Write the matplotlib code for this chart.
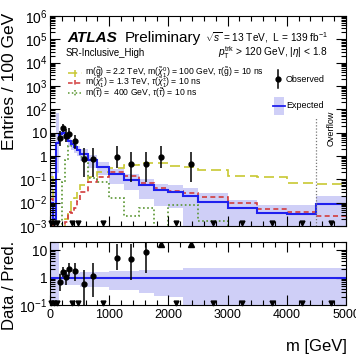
import numpy as np
import matplotlib
matplotlib.use('Agg')
import matplotlib.pyplot as plt
from matplotlib.lines import Line2D
from matplotlib.patches import Rectangle
import matplotlib.ticker as mt

plt.rcParams['font.family'] = ['Liberation Sans', 'DejaVu Sans']
plt.rcParams['mathtext.fontset'] = 'custom'
plt.rcParams['mathtext.rm'] = 'Liberation Sans'
plt.rcParams['mathtext.it'] = 'Liberation Sans:italic'
plt.rcParams['mathtext.bf'] = 'Liberation Sans:bold'

# ---------------- data ----------------
bin_edges = [0, 50, 100, 150, 200, 250, 300, 350, 400, 450, 500, 650, 800, 1000,
             1250, 1500, 1750, 2000, 2250, 2500, 3000, 3500, 4000, 4500, 5000]

expected = [0.01, 0.002, 3.6, 8.5, 10.0, 7.3, 4.4, 3.2, 2.5, 1.8, 1.25, 0.66, 0.33,
            0.17, 0.095, 0.055, 0.034, 0.029, 0.019, 0.011, 0.0058, 0.0036, 0.0033, 0.0086]
# relative uncertainty band (ratio space)
band_up = [20, 20, 20, 1.45, 1.45, 1.45, 1.45, 1.45, 1.45, 1.45, 1.65, 1.65, 1.65,
           1.7, 1.7, 1.9, 1.9, 1.9, 2.3, 2.3, 2.3, 2.3, 2.3, 2.3]
band_dn = [0.05, 0.05, 0.05, 0.55, 0.55, 0.55, 0.55, 0.55, 0.55, 0.55, 0.47, 0.47, 0.47,
           0.36, 0.36, 0.27, 0.22, 0.2, 0.05, 0.05, 0.05, 0.05, 0.05, 0.05]

sig_gluino = [0.12, 1e-6, 1e-6, 1e-6, 1e-6, 0.002, 0.004, 0.012, 0.016, 0.03, 0.06, 0.12, 0.2,
              0.3, 0.42, 0.49, 0.49, 0.38, 0.35, 0.25, 0.14, 0.12, 0.073, 0.063]
sig_chargino = [0.015, 1e-6, 1e-6, 1e-6, 1e-6, 0.0015, 0.004, 0.0035, 0.006, 0.012, 0.03, 0.075, 0.125,
                0.21, 0.135, 0.072, 0.042, 0.032, 0.027, 0.017, 0.01, 0.0052, 0.0041, 0.0027]
sig_stau = [1e-6, 1e-6, 1e-6, 1e-6, 0.08, 0.7, 2.8, 3.2, 2.6, 1.8, 0.9, 0.11, 0.075,
            0.016, 0.0026, 0.006, 1e-6, 0.0079, 0.0079, 0.0017, 1e-6, 1e-6, 1e-6, 1e-6]

observed = [0, 0, 0, 6.0, 15.6, 7.5, 9.0, 0, 4.3, 0, 0.76, 0.76, 0,
            0.91, 0.46, 0.46, 0.91, 0, 0.46, 0, 0, 0, 0, 0]
obs_low = [0, 0, 0, 2.7, 10.5, 4.0, 5.2, 0, 1.9, 0, 0.13, 0.13, 0,
           0.31, 0.08, 0.08, 0.31, 0, 0.08, 0, 0, 0, 0, 0]
obs_high = [0, 0, 0, 11.8, 23.5, 14.0, 15.5, 0, 8.3, 0, 2.3, 2.3, 0,
            2.8, 1.55, 1.55, 2.8, 0, 1.55, 0, 0, 0, 0, 0]

labels_sig = [r'm($\tilde{\mathrm{g}}$) = 2.2 TeV, m($\tilde{\chi}^{0}_{1}$) = 100 GeV, $\tau$($\tilde{\mathrm{g}}$) = 10 ns',
              r'm($\tilde{\chi}^{\pm}_{1}$) = 1.3 TeV, $\tau$($\tilde{\chi}^{\pm}_{1}$) = 10 ns',
              r'm($\tilde{\tau}$) =  400 GeV, $\tau$($\tilde{\tau}$) = 10 ns']

# ---------------- style ----------------
W, H = 356, 364
fig = plt.figure(figsize=(W / 100, H / 100), dpi=100)


def fx(px):
    return px / W


def fy(py):
    return 1 - py / H


BLUE = '#2020ee'
BAND = '#cfcff7'
YEL = '#c8c832'
RED = '#d23c3c'
GRN = '#5a9632'
styles = [(YEL, (0, (6, 3))), (RED, (0, (3, 2))), (GRN, (0, (1, 1.5)))]

ax = fig.add_axes([fx(50), fy(226), fx(346) - fx(50), fy(16) - fy(226)])
ax2 = fig.add_axes([fx(50), fy(305), fx(346) - fx(50), fy(242) - fy(305)])
ax.set_yscale('log')
ax2.set_yscale('log')

edges = np.array(bin_edges, float)
centers = 0.5 * (edges[1:] + edges[:-1])
exp = np.array(expected)
up = np.array(band_up)
dn = np.array(band_dn)
obs = np.array(observed)
olo = np.array(obs_low)
ohi = np.array(obs_high)

# main panel
ax.stairs(exp * up, edges, baseline=exp * dn, fill=True, color=BAND, lw=0)
for vals, (c, ls) in zip([sig_gluino, sig_chargino, sig_stau], styles):
    ax.stairs(vals, edges, baseline=None, color=c, ls=ls, lw=1.2)
ax.stairs(exp, edges, baseline=None, color=BLUE, lw=1.5)

has = obs > 0
ax.errorbar(centers[has], obs[has], yerr=[obs[has] - olo[has], ohi[has] - obs[has]],
            fmt='o', color='k', ms=3.5, elinewidth=1.1, capsize=0, zorder=5)
ax.plot(centers[~has], np.full((~has).sum(), 1.3e-3), 'kv', ms=3.5, zorder=5, clip_on=False)

ax.axvline(edges[-2], ymin=0, ymax=0.515, color='#777777', ls=(0, (1, 1.5)), lw=0.9)

ax.set_xlim(edges[0], edges[-1])
ax.set_ylim(1e-3, 1e6)


def logfmt(v, pos):
    e = int(round(np.log10(v)))
    if e == 0:
        return '1'
    if e == 1:
        return '10'
    return r'$10^{%d}$' % e


# ratio panel
ax2.set_ylim(0.1, 20)
ax2.set_xlim(edges[0], edges[-1])
ax2.stairs(up, edges, baseline=dn, fill=True, color=BAND, lw=0)
ax2.axhline(1, color=BLUE, lw=1.5)
ratio = np.where(has, obs / exp, 0)
rlo = olo / exp
rhi = ohi / exp
inr = has & (ratio < 20)
ax2.errorbar(centers[inr], ratio[inr], yerr=[ratio[inr] - rlo[inr], rhi[inr] - ratio[inr]],
             fmt='o', color='k', ms=3.5, elinewidth=1.1, capsize=0, zorder=5)
over = has & (ratio >= 20)
ax2.plot(centers[over], np.full(over.sum(), 17.0), 'k^', ms=3.8, zorder=5)
ax2.plot(centers[~has], np.full((~has).sum(), 0.118), 'kv', ms=3.5, zorder=5, clip_on=False)

for a in (ax, ax2):
    a.xaxis.set_major_locator(mt.MultipleLocator(1000))
    a.xaxis.set_minor_locator(mt.MultipleLocator(200))
    a.yaxis.set_major_locator(mt.LogLocator(base=10, numticks=20))
    a.yaxis.set_minor_locator(mt.LogLocator(base=10, subs=np.arange(2, 10), numticks=100))
    a.yaxis.set_major_formatter(mt.FuncFormatter(logfmt))
    a.yaxis.set_minor_formatter(mt.NullFormatter())
    a.tick_params(which='both', direction='in', top=True, right=True, width=0.8)
    a.tick_params(which='major', length=7)
    a.tick_params(which='minor', length=3.5)
    a.tick_params(axis='y', labelsize=10, pad=2)
    a.tick_params(axis='x', labelsize=9, pad=3)
ax.tick_params(labelbottom=False)

# ---------------- texts ----------------
fig.text(fx(67), fy(38), 'ATLAS', weight='bold', style='italic', size=11, va='center')
fig.text(fx(125), fy(38), 'Preliminary', size=11, va='center')
fig.text(fx(66), fy(53), 'SR-Inclusive_High', size=6.9, va='center')
fig.text(fx(328), fy(38), r'$\sqrt{s}$ = 13 TeV,  L = 139 fb$^{-1}$', ha='right', va='center', size=7.3)
fig.text(fx(328), fy(53), r'$p_{\mathrm{T}}^{\mathrm{trk}}$ > 120 GeV, |$\eta$| < 1.8', ha='right', va='center', size=7.3)

for i, ((c, ls), lab) in enumerate(zip(styles, labels_sig)):
    yy = 73 + 10 * i
    fig.add_artist(Line2D([fx(68), fx(82)], [fy(yy), fy(yy)], color=c, ls=ls, lw=1.1))
    fig.add_artist(Line2D([fx(75), fx(75)], [fy(yy - 3.5), fy(yy + 3.5)], color=c, ls=ls, lw=1.1))
    fig.text(fx(85), fy(yy), lab, size=6.2, va='center')

fig.add_artist(Line2D([fx(278), fx(278)], [fy(70), fy(88)], color='k', lw=1.1))
fig.add_artist(Line2D([fx(278)], [fy(79)], marker='o', ms=3.5, color='k'))
fig.text(fx(286), fy(79), 'Observed', size=6.5, va='center')
fig.add_artist(Rectangle((fx(274), fy(115)), fx(284) - fx(274), fy(97) - fy(115),
                         transform=fig.transFigure, color=BAND, lw=0))
fig.add_artist(Line2D([fx(273), fx(285)], [fy(106), fy(106)], color=BLUE, lw=1.3))
fig.text(fx(286), fy(106), 'Expected', size=6.5, va='center')

fig.text(fx(331), fy(128), 'Overflow', rotation=90, ha='center', va='center', size=6.5)

fig.text(fx(10), fy(13), 'Entries / 100 GeV', rotation=90, ha='center', va='top', size=12.5)
fig.text(fx(10), fy(241), 'Data / Pred.', rotation=90, ha='center', va='top', size=12)
fig.text(fx(347), fy(347), 'm [GeV]', ha='right', va='center', size=12)

fig.savefig('out.png', dpi=100)
